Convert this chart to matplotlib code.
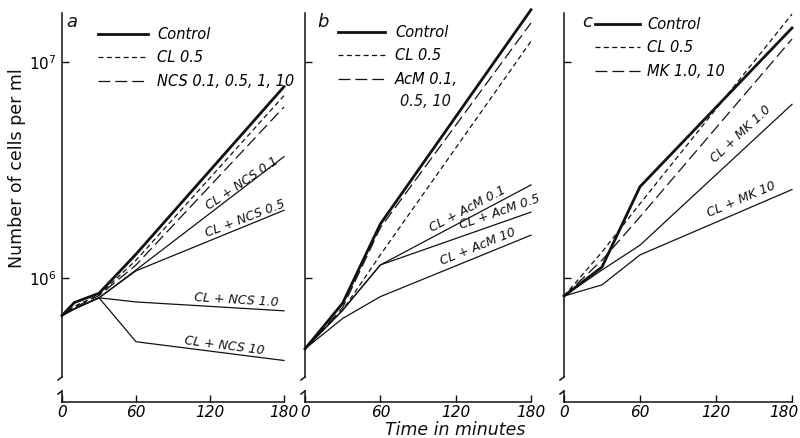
import matplotlib
matplotlib.use("Agg")
import matplotlib.pyplot as plt
from matplotlib.lines import Line2D
from matplotlib.ticker import FixedLocator, NullLocator, FixedFormatter
from matplotlib.transforms import ScaledTranslation

# ---------------- data (cells per ml) ----------------
times_a = [0, 10, 30, 60, 180]
a_control = [6.7e5, 7.7e5, 8.5e5, 1.29e6, 7.7e6]
a_cl05 = [6.7e5, 7.4e5, 8.35e5, 1.21e6, 7.0e6]
a_ncs = [6.7e5, 7.3e5, 8.3e5, 1.15e6, 6.2e6]
a_cl_ncs01 = [6.7e5, 7.2e5, 8.1e5, 1.09e6, 3.65e6]
a_cl_ncs05 = [6.7e5, 7.2e5, 8.1e5, 1.08e6, 2.06e6]
a_cl_ncs1 = [6.7e5, 7.2e5, 8.1e5, 7.75e5, 7.05e5]
a_cl_ncs10 = [6.7e5, 7.2e5, 8.1e5, 5.07e5, 4.15e5]

times_b = [0, 30, 60, 180]
b_control = [4.7e5, 7.65e5, 1.78e6, 1.75e7]
b_cl05 = [4.7e5, 7.1e5, 1.28e6, 1.25e7]
b_acm = [4.7e5, 7.3e5, 1.71e6, 1.52e7]
b_cl_acm01 = [4.7e5, 7.1e5, 1.15e6, 2.70e6]
b_cl_acm05 = [4.7e5, 7.1e5, 1.15e6, 2.02e6]
b_cl_acm10 = [4.7e5, 6.5e5, 8.2e5, 1.58e6]

times_c = [0, 30, 60, 180]
c_control = [8.25e5, 1.125e6, 2.65e6, 1.44e7]
c_cl05 = [8.25e5, 1.32e6, 2.21e6, 1.67e7]
c_mk = [8.25e5, 1.21e6, 1.92e6, 1.28e7]
c_cl_mk1 = [8.25e5, 1.09e6, 1.42e6, 6.38e6]
c_cl_mk10 = [8.25e5, 9.3e5, 1.28e6, 2.57e6]

x_ticks = [0, 60, 120, 180]
x_ticklabels = ["0", "60", "120", "180"]
y_ticks = [1e6, 1e7]
y_ticklabels = [r"$10^6$", r"$10^7$"]

panel_letters = ["a", "b", "c"]
legend_labels = [
    ["Control", "CL 0.5", "NCS 0.1, 0.5, 1, 10"],
    ["Control", "CL 0.5", "AcM 0.1,"],
    ["Control", "CL 0.5", "MK 1.0, 10"],
]
legend_extra_b = "0.5, 10"
combo_labels = [
    ["CL + NCS 0.1", "CL + NCS 0.5", "CL + NCS 1.0", "CL + NCS 10"],
    ["CL + AcM 0.1", "CL + AcM 0.5", "CL + AcM 10"],
    ["CL + MK 1.0", "CL + MK 10"],
]

# ---------------- styles ----------------
W, H = 800, 438
K = "#111111"
THICK = 2.0
THIN = 0.9
SHORT = (0, (4.0, 2.7))
LONG = (0, (9.5, 4.0))

def fx(px):
    return px / W

def fy(py):
    return 1 - py / H

fig = plt.figure(figsize=(8, 4.38), dpi=100)

TOP, BOT = 13, 377
XAX, XTOP = 402, 391
YMIN, YMAX = 3.48e5, 1.69e7

panels = [
    dict(l=62, r=284, t=times_a,
         series=[(a_control, "-", THICK), (a_cl05, SHORT, THIN), (a_ncs, LONG, THIN),
                 (a_cl_ncs01, "-", THIN), (a_cl_ncs05, "-", THIN),
                 (a_cl_ncs1, "-", THIN), (a_cl_ncs10, "-", THIN)],
         leg=(98, 27, 50, 9), letter=(72, 22),
         combos=[(242, 183, 34), (245, 219, 21), (236, 300, -3.5), (224, 346, -7.4)]),
    dict(l=305, r=531, t=times_b,
         series=[(b_control, "-", THICK), (b_cl05, SHORT, THIN), (b_acm, LONG, THIN),
                 (b_cl_acm01, "-", THIN), (b_cl_acm05, "-", THIN), (b_cl_acm10, "-", THIN)],
         leg=(338, 25, 47, 10), letter=(323, 22),
         combos=[(468, 209, 28), (500, 212, 19), (478, 247, 22)]),
    dict(l=564, r=792, t=times_c,
         series=[(c_control, "-", THICK), (c_cl05, SHORT, THIN), (c_mk, LONG, THIN),
                 (c_cl_mk1, "-", THIN), (c_cl_mk10, "-", THIN)],
         leg=(595, 17, 45, 7), letter=(587, 22),
         combos=[(741, 134, 43), (741, 199, 23)]),
]

for i, p in enumerate(panels):
    l, r = p["l"], p["r"]
    ax = fig.add_axes([fx(l), fy(BOT), fx(r) - fx(l), fy(TOP) - fy(BOT)])
    ax.set_yscale("log")
    ax.set_xlim(0, 180)
    ax.set_ylim(YMIN, YMAX)
    for s in ["top", "right", "bottom"]:
        ax.spines[s].set_visible(False)
    ax.spines["left"].set_linewidth(1.1)
    ax.spines["left"].set_color(K)
    ax.set_xticks([])
    ax.yaxis.set_major_locator(FixedLocator(y_ticks))
    ax.yaxis.set_minor_locator(NullLocator())
    ax.tick_params(axis="y", direction="in", length=5, width=1, color=K, labelsize=11, pad=4)
    if i == 0:
        ax.yaxis.set_major_formatter(FixedFormatter(y_ticklabels))
    else:
        ax.set_yticklabels([])
    ax.patch.set_alpha(0)

    for vals, ls, lw in p["series"]:
        ax.plot(p["t"], vals, color=K, linestyle=ls, linewidth=lw, clip_on=False,
                solid_joinstyle="miter")

    # legend
    lx, ltop, hl, gap = p["leg"]
    fs = 10.5
    fpx = fs * 100 / 72
    handles = [Line2D([], [], color=K, lw=THICK, ls="-"),
               Line2D([], [], color=K, lw=THIN, ls=SHORT),
               Line2D([], [], color=K, lw=THIN, ls=LONG)]
    ax.legend(handles, legend_labels[i], loc="upper left",
              bbox_to_anchor=((lx - l) / (r - l), (BOT - ltop) / (BOT - TOP)),
              frameon=False, borderpad=0, borderaxespad=0,
              handlelength=hl / fpx, handletextpad=gap / fpx,
              labelspacing=0.58, prop={"style": "italic", "size": fs})
    if i == 1:
        fig.text(fx(400), fy(101), legend_extra_b, fontsize=fs, style="italic",
                 ha="left", va="center", color=K)

    # panel letter
    fig.text(fx(p["letter"][0]), fy(p["letter"][1]), panel_letters[i],
             fontsize=13, style="italic", ha="center", va="center", color=K)

    # combo labels along lines
    for txt, (cx, cy, rot) in zip(combo_labels[i], p["combos"]):
        fig.text(fx(cx), fy(cy), txt, fontsize=9, style="italic", rotation=rot,
                 rotation_mode="anchor", ha="center", va="center", color=K)

    # lower (broken) axis with time ticks
    axb = fig.add_axes([fx(l), fy(XAX), fx(r) - fx(l), fy(XTOP) - fy(XAX)])
    axb.set_xlim(0, 180)
    axb.set_ylim(0, 1)
    for s in ["top", "right"]:
        axb.spines[s].set_visible(False)
    for s in ["left", "bottom"]:
        axb.spines[s].set_linewidth(1.1)
        axb.spines[s].set_color(K)
    axb.set_yticks([])
    axb.set_xticks(x_ticks)
    axb.set_xticklabels(x_ticklabels, style="italic")
    axb.tick_params(axis="x", direction="in", length=5, width=1, color=K, labelsize=11, pad=2.5)
    axb.patch.set_alpha(0)
    if i == 2:
        lab = axb.get_xticklabels()[-1]
        lab.set_horizontalalignment("right")
        lab.set_transform(lab.get_transform() + ScaledTranslation(7 / 100, 0, fig.dpi_scale_trans))

    # break marks
    fig.add_artist(Line2D([fx(l), fx(l - 4)], [fy(BOT), fy(BOT + 3)], color=K, lw=1.1))
    fig.add_artist(Line2D([fx(l), fx(l - 4)], [fy(XTOP), fy(XTOP + 3)], color=K, lw=1.1))

fig.text(fx(17), fy(168), "Number of cells per ml", rotation=90, fontsize=12.5,
         ha="center", va="center", color=K)
fig.text(fx(455), fy(430), "Time in minutes", fontsize=12.5, style="italic",
         ha="center", va="center", color=K)

fig.savefig("out.png", dpi=100, facecolor="white")
